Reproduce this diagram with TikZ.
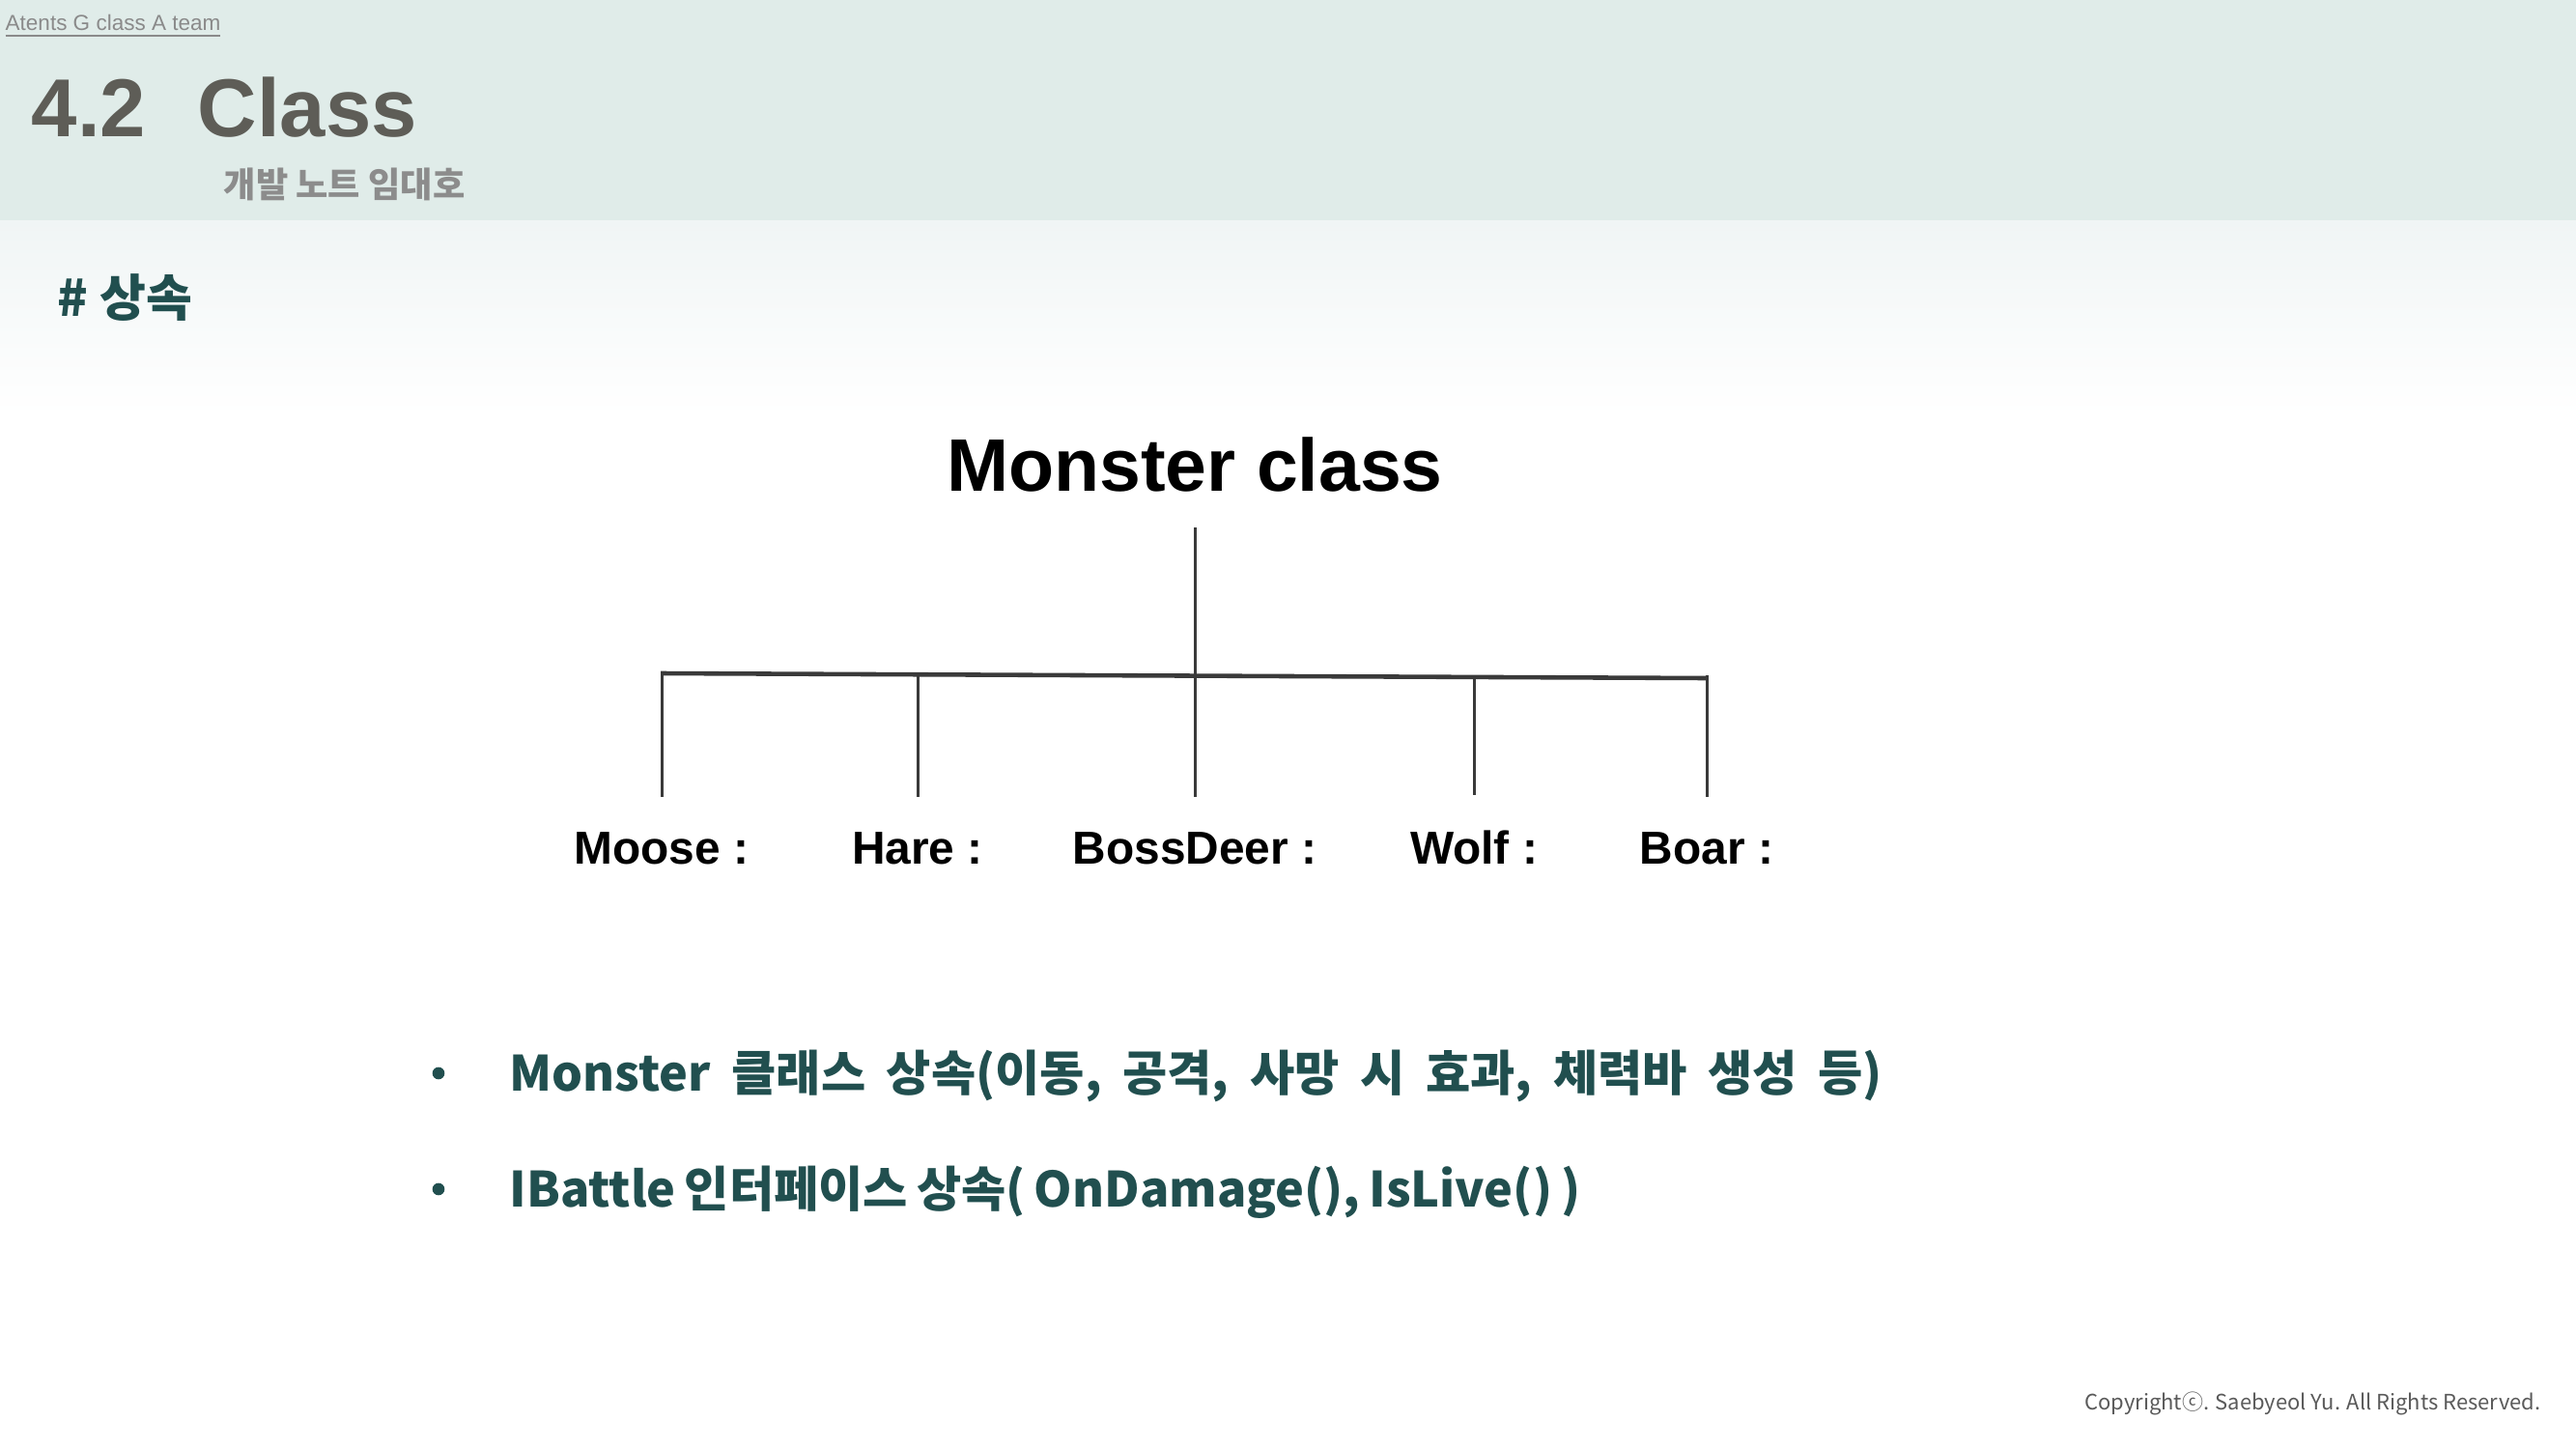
\documentclass[tikz,border=0pt]{standalone}
\usepackage{fontspec}
\setmainfont{Liberation Sans}
\newfontfamily\krfont{Noto Sans CJK KR}
\usetikzlibrary{positioning}
\definecolor{headbg}{HTML}{E0ECE9}
\definecolor{fadebg}{HTML}{F0F5F5}
\definecolor{headgray}{HTML}{5E5D57}
\definecolor{teamgray}{HTML}{8A8A8A}
\definecolor{subgray}{HTML}{8C8C8C}
\definecolor{deepteal}{HTML}{214F4F}
\definecolor{linegray}{HTML}{3A3A3A}
\definecolor{copygray}{HTML}{5A5A5A}
\begin{document}
\begin{tikzpicture}[x=0.01cm,y=-0.01cm,inner sep=0pt,
  headtext/.style={anchor=base west,text=headgray,font=\bfseries\fontsize{24.2}{28}\selectfont},
  branch/.style={draw=linegray,line width=0.85pt},
  kid/.style={anchor=base,font=\bfseries\fontsize{13.6}{16}\selectfont},
  point/.style={anchor=base west,text=deepteal,font=\krfont\bfseries\fontsize{14.3}{17}\selectfont},
  dotmark/.style={circle,fill=deepteal,minimum size=3.6pt}]
\def\x{0}
\def\y{0}
% page and header band
\useasboundingbox (\x,\y) rectangle (2667,1500);
\fill[white] (\x,\y) rectangle (2667,1500);
\fill[headbg] (\x,\y) rectangle (2667,228);
\shade[top color=fadebg,bottom color=white] (\x,228) rectangle (2667,430);
\node[anchor=base west,text=teamgray,font=\fontsize{6.4}{8}\selectfont] (team) at (5,32) {\underline{Atents G class A team}};
\node[headtext] (num) at (32,142) {4.2};
\node[headtext] (title) at (204,142) {Class};
\node[anchor=base west,text=subgray,font=\krfont\bfseries\fontsize{10.3}{12}\selectfont] (writer) at (231,205) {개발 노트 임대호};
\node[anchor=base west,text=deepteal,font=\krfont\bfseries\fontsize{14.8}{17}\selectfont] (topic) at (59,327) {\# 상속};
% tree
\node[anchor=base,font=\bfseries\fontsize{21.9}{26}\selectfont] (monster) at (1237,508) {Monster class};
\coordinate (stem) at (1237,546);
\coordinate (barL) at (684,697);
\coordinate (barR) at (1767,702);
\coordinate (hub) at (1237,699);
\node[kid] (moose) at (685,894) {Moose :};
\node[kid] (hare) at (950,894) {Hare :};
\node[kid] (boss) at (1237,894) {BossDeer :};
\node[kid] (wolf) at (1526,894) {Wolf :};
\node[kid] (boar) at (1767,894) {Boar :};
\draw[branch] (stem) -- (hub);
\draw[branch,line width=1.3pt] (barL) -- (barR);
\draw[branch] (moose.north |- hub) -- ([yshift=10pt]moose.north);
\draw[branch] (hare.north |- hub) -- ([yshift=10pt]hare.north);
\draw[branch] (boss.north |- hub) -- ([yshift=10pt]boss.north);
\draw[branch] (wolf.north |- hub) -- ([yshift=10pt]wolf.north);
\draw[branch] (boar.north |- hub) -- ([yshift=10pt]boar.north);
% notes
\node[dotmark] (dot1) at (454,1111) {};
\node[point] (note1) at (527,1129) {\spaceskip=0.43em Monster 클래스 상속(이동, 공격, 사망 시 효과, 체력바 생성 등)};
\node[dotmark] (dot2) at (454,1231) {};
\node[point] (note2) at (527,1249) {\spaceskip=0.18em IBattle 인터페이스 상속( OnDamage(), IsLive() )};
\node[anchor=base east,text=copygray,font=\krfont\fontsize{6.25}{8}\selectfont] (copy) at (2631,1459) {Copyrightⓒ. Saebyeol Yu. All Rights Reserved.};
\end{tikzpicture}
\end{document}
